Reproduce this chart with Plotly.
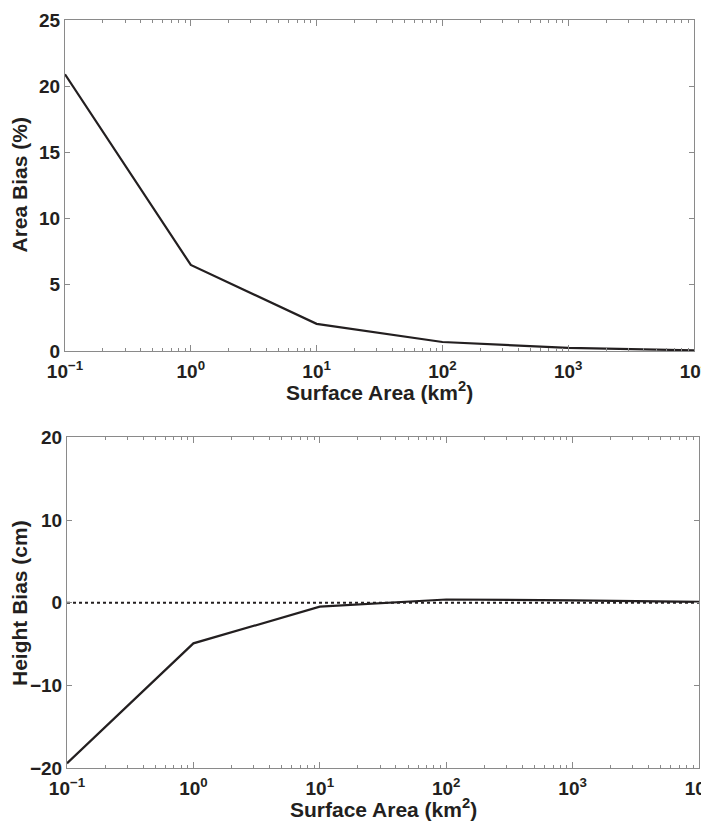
import plotly.graph_objects as go

# ---- data ----
surface_area = [0.1, 1, 10, 100, 1000, 10000]
area_bias = [20.9, 6.5, 2.05, 0.68, 0.23, 0.05]
height_bias = [-19.4, -4.9, -0.47, 0.4, 0.3, 0.1]
zero_x = [0.1, 10000]
zero_y = [0, 0]

x_tickvals = [0.1, 1, 10, 100, 1000, 10000]
x_ticktext = ["10<sup>−1</sup>", "10<sup>0</sup>", "10<sup>1</sup>",
              "10<sup>2</sup>", "10<sup>3</sup>", "10<sup>4</sup>"]
x_minor = [m * d for d in [0.1, 1, 10, 100, 1000] for m in range(2, 10)]
y1_ticks = [0, 5, 10, 15, 20, 25]
y2_ticks = [-20, -10, 0, 10, 20]

PAGE_W, PAGE_H = 709, 822
OFF = 8  # browser default body margin
W, H = PAGE_W - OFF, PAGE_H - OFF
INK = "#231f20"
AX = "#8a8a8a"
FAM = "Liberation Sans, Arial, sans-serif"
TICKFONT = dict(family=FAM, size=19, color=INK, weight="bold")
TITLEFONT = dict(family=FAM, size=21, color=INK, weight="bold")

def px_x(v):
    return (v - OFF) / W

def px_y(v):
    return 1 - (v - OFF) / H

fig = go.Figure()
fig.add_trace(go.Scatter(x=surface_area, y=area_bias, mode="lines",
                         line=dict(color=INK, width=2.2), xaxis="x", yaxis="y",
                         showlegend=False))
fig.add_trace(go.Scatter(x=zero_x, y=zero_y, mode="lines",
                         line=dict(color=INK, width=2, dash="dot"), xaxis="x2", yaxis="y2",
                         showlegend=False))
fig.add_trace(go.Scatter(x=surface_area, y=height_bias, mode="lines",
                         line=dict(color=INK, width=2.2), xaxis="x2", yaxis="y2",
                         showlegend=False))

def xax(domain, anchor):
    return dict(type="log", range=[-1, 4], domain=domain, anchor=anchor,
                tickmode="array", tickvals=x_tickvals, ticktext=x_ticktext,
                ticks="inside", ticklen=6, tickcolor=AX, tickwidth=1,
                minor=dict(tickmode="array", tickvals=x_minor, ticks="inside",
                           ticklen=3, tickcolor=AX, tickwidth=1, showgrid=False),
                showline=True, linecolor=AX, linewidth=1, mirror="ticks",
                showgrid=False, zeroline=False, automargin=False,
                ticklabeloverflow="allow",
                ticklabelstandoff=3, tickfont=TICKFONT)

def yax(domain, anchor, ticks, rng):
    return dict(range=rng, domain=domain, anchor=anchor, tickvals=ticks,
                ticks="inside", ticklen=5, tickcolor=AX, tickwidth=1,
                showline=True, linecolor=AX, linewidth=1, mirror="ticks",
                showgrid=False, zeroline=False, automargin=False,
                tickfont=TICKFONT)

fig.update_layout(
    width=W, height=H, template="none",
    paper_bgcolor="white", plot_bgcolor="white",
    margin=dict(l=0, r=0, t=0, b=0),
    xaxis=xax([px_x(65), px_x(694)], "y"),
    yaxis=yax([px_y(351), px_y(20)], "x", y1_ticks, [0, 25]),
    xaxis2=xax([px_x(67), px_x(699)], "y2"),
    yaxis2=yax([px_y(768.3), px_y(437.3)], "x2", y2_ticks, [-20, 20]),
    annotations=[
        dict(text="Area Bias (%)", x=px_x(19), y=px_y(185.5), xref="paper", yref="paper",
             textangle=-90, showarrow=False, xanchor="center", yanchor="middle",
             font=TITLEFONT),
        dict(text="Surface Area (km<sup>2</sup>)", x=px_x(379.5), y=px_y(391),
             xref="paper", yref="paper", showarrow=False, xanchor="center",
             yanchor="middle", font=TITLEFONT),
        dict(text="Height Bias (cm)", x=px_x(19), y=px_y(603), xref="paper", yref="paper",
             textangle=-90, showarrow=False, xanchor="center", yanchor="middle",
             font=TITLEFONT),
        dict(text="Surface Area (km<sup>2</sup>)", x=px_x(383), y=px_y(808),
             xref="paper", yref="paper", showarrow=False, xanchor="center",
             yanchor="middle", font=TITLEFONT),
    ],
)

fig.write_html("out.html")
